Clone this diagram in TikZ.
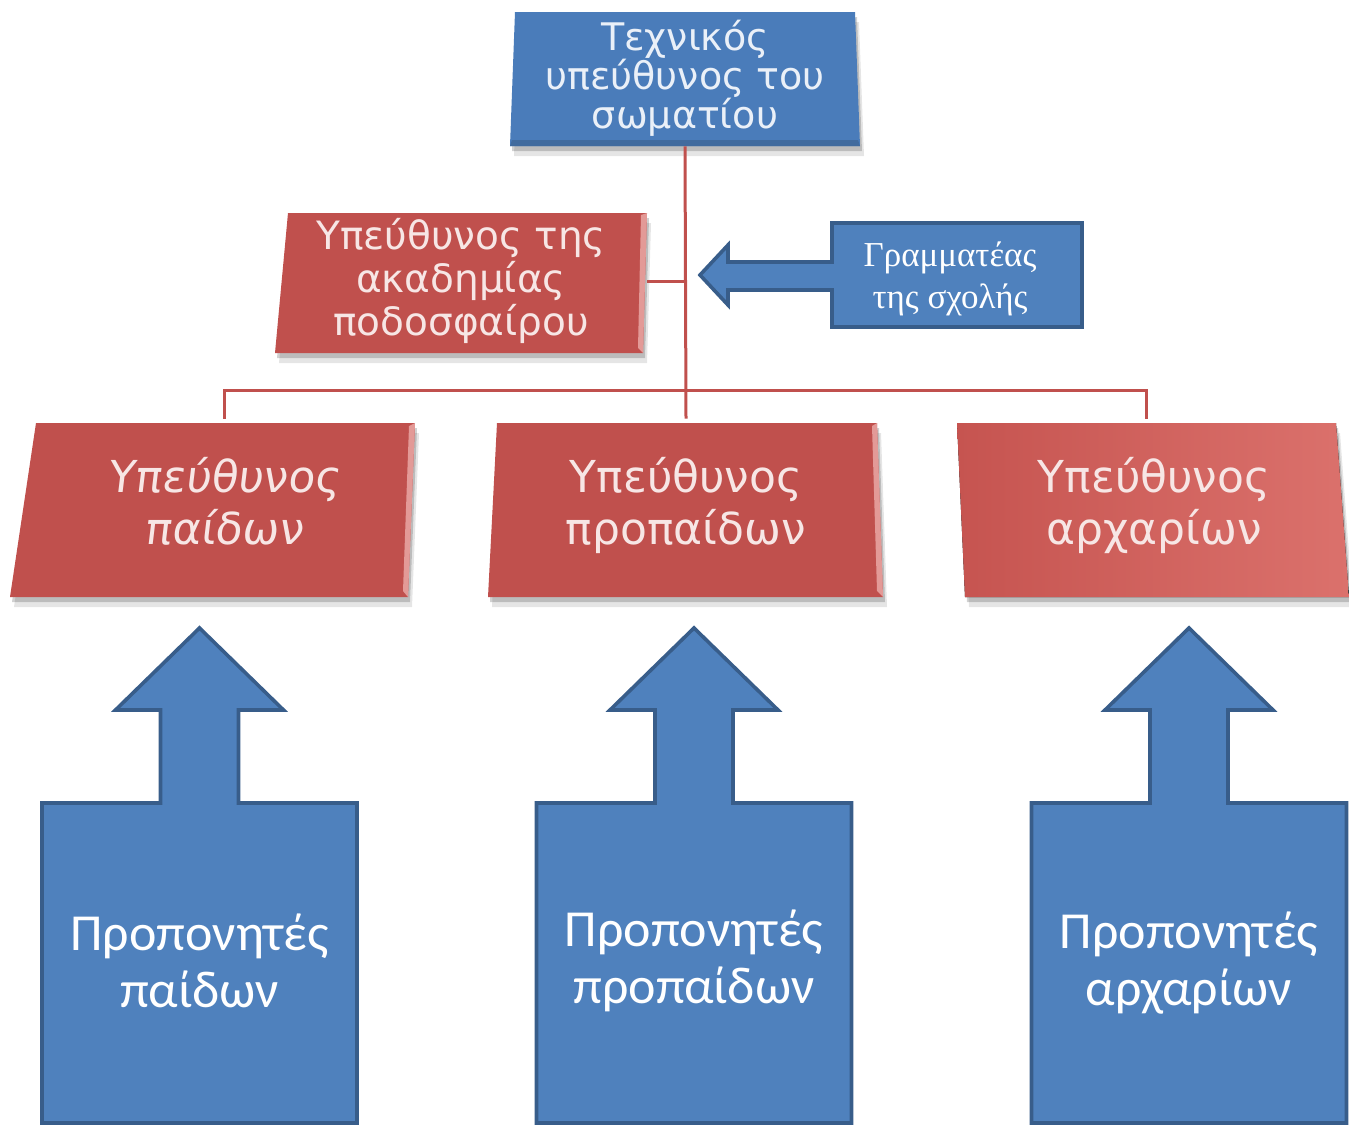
\documentclass[tikz,border=0pt]{standalone}
\usepackage{fontspec}
\newfontfamily\boxfont{DejaVu Sans}
\newfontfamily\boxslant[FakeSlant=0.12]{DejaVu Sans}
\newfontfamily\coachfont{Carlito}
\newfontfamily\secfont{Liberation Serif}
\usetikzlibrary{backgrounds}
\definecolor{bluefill}{HTML}{4F81BD}
\definecolor{blueline}{HTML}{385D8A}
\definecolor{bluetop}{HTML}{4A7CBA}
\definecolor{redfill}{HTML}{C0504D}
\definecolor{redleft}{HTML}{C65450}
\definecolor{redright}{HTML}{DB716C}
\definecolor{redbevel}{HTML}{E39A97}
\definecolor{redtext}{HTML}{F7E6E5}
\definecolor{bluetext}{HTML}{EAF0F8}
\newcommand{\persbox}[5]{%
  \fill[black,opacity=0.10] ([shift={(4,10)}]#1) -- ([shift={(4,10)}]#2) -- ([shift={(4,10)}]#3) -- ([shift={(4,10)}]#4) -- cycle;
  \fill[black,opacity=0.18] ([shift={(2,5)}]#1) -- ([shift={(2,5)}]#2) -- ([shift={(2,5)}]#3) -- ([shift={(2,5)}]#4) -- cycle;
  \fill[#5] (#1) -- (#2) -- (#3) -- (#4) -- cycle;
}
\tikzset{
  techtext/.style={inner sep=0pt, align=center, text=bluetext, font=\boxfont\fontsize{19}{19.5}\selectfont},
  redtextA/.style={inner sep=0pt, align=center, text=redtext, font=\boxfont\fontsize{19.5}{21.5}\selectfont},
  redtextB/.style={inner sep=0pt, align=center, text=redtext, font=\boxfont\fontsize{22}{23.5}\selectfont},
  sectext/.style={inner sep=0pt, align=center, text=white, font=\secfont\fontsize{17.5}{21}\selectfont},
  coachtext/.style={inner sep=0pt, align=center, text=white, font=\coachfont\fontsize{26}{28.5}\selectfont},
  redline/.style={draw=redfill, line width=1.5pt},
  callout/.style={fill=bluefill, draw=blueline, line width=1.8pt, line join=miter},
}
\begin{document}
\begin{tikzpicture}[x=0.5pt,y=-0.5pt]
\useasboundingbox (0,0) rectangle (1349,1125);

% text nodes
\node[techtext, minimum width=172pt, minimum height=68pt] (tech) at (685,78) {Τεχνικός\\υπεύθυνος του\\σωματίου};
\node[redtextA, minimum width=186pt, minimum height=70pt] (acad) at (461,281) {Υπεύθυνος της\\ακαδημίας\\ποδοσφαίρου};
\node[redtextB, minimum width=190pt, minimum height=87pt, font=\boxslant\fontsize{22}{23.5}\selectfont] (paid) at (224,506) {\raisebox{5pt}{\shortstack{Υπεύθυνος\\[1pt]παίδων}}};
\node[redtextB, minimum width=190pt, minimum height=87pt] (propaid) at (686,506) {\raisebox{5pt}{\shortstack{Υπεύθυνος\\[1pt]προπαίδων}}};
\node[redtextB, minimum width=190pt, minimum height=87pt] (arch) at (1146,506) {\hspace{8pt}\raisebox{5pt}{\shortstack{Υπεύθυνος\\[1pt]αρχαρίων}}};
\node[sectext, minimum width=125pt, minimum height=52pt] (sec) at (950,279) {Γραμματέας\\της σχολής};
\node[coachtext, minimum width=157pt, minimum height=160pt] (coachP) at (199.5,961) {Προπονητές\\παίδων};
\node[coachtext, minimum width=157pt, minimum height=160pt] (coachPP) at (694,961) {Προπονητές\\προπαίδων};
\node[coachtext, minimum width=157pt, minimum height=160pt] (coachA) at (1189,963) {Προπονητές\\αρχαρίων};

\coordinate (bus) at (686,390);

\begin{scope}[on background layer]
  % boxes
  \persbox{515,12}{855,12}{860,146}{510,146}{bluetop}
  \fill[blueline!60!bluefill] (510,146) -- (860,146) -- (858,140) -- (512,140) -- cycle;
  \persbox{288,213}{647,213}{643,353}{275,353}{redfill}
  \fill[redbevel] (641,215) -- (647,213) -- (643,353) -- (638,348) -- cycle;
  \persbox{36,423}{415,423}{408,597}{10,597}{redfill}
  \fill[redbevel] (409,426) -- (415,423) -- (408,597) -- (403,591) -- cycle;
  \persbox{497,423}{877,423}{883,597}{488,597}{redfill}
  \fill[redbevel] (872,426) -- (877,423) -- (883,597) -- (877,591) -- cycle;
  \persbox{957,423}{1336,423}{1349,597}{965,597}{left color=redleft, right color=redright}
  % connectors
  \draw[redline] (tech.south) -- (propaid.north);
  \draw[redline] (acad.east) -- (acad.east -| tech.south);
  \draw[redline] (paid.north) |- (bus) -| (arch.north);
  % secretary callout
  \draw[callout] (832,223) -- (1082,223) -- (1082,327) -- (832,327) -- (832,290) -- (728,290) -- (728,305) -- (700,275) -- (728,245) -- (728,262) -- (832,262) -- cycle;
  % coach callouts
  \foreach \c in {199.5,694,1189}{
    \draw[callout] (\c-157.5,803) -- (\c-39,803) -- (\c-39,710) -- (\c-84,710) -- (\c,628) -- (\c+84,710) -- (\c+39,710) -- (\c+39,803) -- (\c+157.5,803) -- (\c+157.5,1123) -- (\c-157.5,1123) -- cycle;
  }
\end{scope}
\end{tikzpicture}
\end{document}
